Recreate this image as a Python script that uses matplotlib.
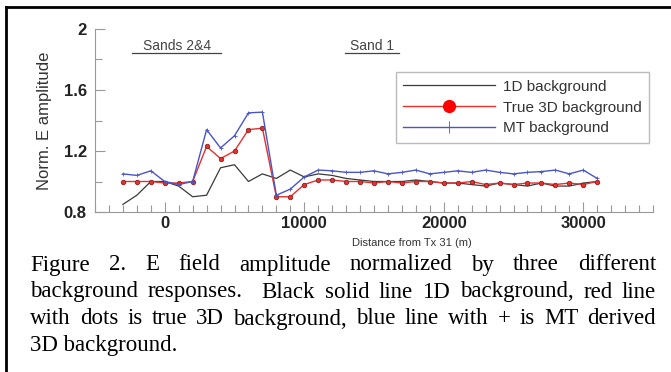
import numpy as np
import matplotlib.pyplot as plt
from matplotlib.lines import Line2D
from matplotlib.ticker import MultipleLocator

# data (distance in m, normalized E amplitude)
distance = np.arange(-3000, 31001, 1000)

bg_1d = [0.85, 0.91, 1.00, 1.00, 0.97, 0.90, 0.91, 1.09, 1.11, 1.00,
         1.05, 1.02, 1.075, 1.03, 1.05, 1.04, 1.02, 1.01, 1.00, 1.00,
         1.00, 1.01, 1.00, 0.99, 0.99, 0.98, 0.97, 0.99, 0.98, 0.97,
         0.99, 0.97, 0.97, 0.99, 1.00]

bg_true3d = [1.00, 1.00, 1.00, 0.99, 0.99, 1.00, 1.23, 1.15, 1.20, 1.34,
             1.35, 0.90, 0.90, 0.98, 1.01, 1.01, 1.00, 1.00, 0.99, 1.00,
             0.99, 1.00, 1.00, 0.99, 0.99, 1.00, 0.98, 0.99, 0.98, 0.99,
             0.99, 0.98, 0.99, 0.98, 1.00]

bg_mt = [1.05, 1.04, 1.07, 1.00, 0.98, 1.00, 1.34, 1.22, 1.30, 1.45,
         1.455, 0.91, 0.95, 1.03, 1.075, 1.07, 1.06, 1.06, 1.07, 1.05,
         1.06, 1.075, 1.05, 1.06, 1.07, 1.06, 1.075, 1.06, 1.05, 1.06,
         1.065, 1.075, 1.05, 1.075, 1.02]

caption = ["Figure 2. E field amplitude normalized by three different",
           "background responses.  Black solid line 1D background, red line",
           "with dots is true 3D background, blue line with + is MT derived",
           "3D background."]

W, H = 671, 372
fig = plt.figure(figsize=(W / 100, H / 100), dpi=100)


def fx(x):
    return x / W


def fy(y):
    return 1 - y / H


# page frame (left and top rules)
fig.add_artist(Line2D([fx(6), fx(6)], [0, fy(7)], color='k', lw=2))
fig.add_artist(Line2D([fx(6), 1], [fy(7), fy(7)], color='k', lw=2))

ax = fig.add_axes([fx(95), fy(212), fx(653) - fx(95), fy(29) - fy(212)])

ax.plot(distance, bg_1d, color='#3a3a3a', lw=0.9)
ax.plot(distance, bg_true3d, color='#e8302c', lw=1.0, marker='o', ms=3.2,
        mfc='#e8302c', mec='#8a2020', mew=0.6)
ax.plot(distance, bg_mt, color='#4a55c8', lw=1.0, marker='+', ms=3,
        mew=0.6)

ax.set_xlim(-5000, 35000)
ax.set_ylim(0.8, 2.0)
ax.set_xticks([0, 10000, 20000, 30000])
ax.set_yticks([0.8, 1.2, 1.6, 2.0])
ax.set_yticklabels(['0.8', '1.2', '1.6', '2'])
ax.xaxis.set_minor_locator(MultipleLocator(1000))
ax.yaxis.set_minor_locator(MultipleLocator(0.2))
ax.tick_params(which='both', direction='in', colors='#999999',
               labelcolor='#222222', width=0.8)
ax.tick_params(which='major', length=7, labelsize=12)
ax.tick_params(which='minor', length=5)
ax.tick_params(axis='x', pad=3)
ax.tick_params(axis='y', pad=6)
for lab in ax.get_xticklabels() + ax.get_yticklabels():
    lab.set_fontweight('bold')
    lab.set_family('Liberation Sans')

ax.spines['top'].set_visible(False)
ax.spines['right'].set_visible(False)
ax.spines['left'].set_color('#999999')
ax.spines['bottom'].set_color('#999999')

ax.set_ylabel('Norm. E amplitude', fontsize=12, family='Liberation Sans',
              color='#333333', labelpad=8)
fig.text(fx(412), fy(243), 'Distance from Tx 31 (m)', fontsize=8,
         family='Liberation Sans', color='#333333', ha='center', va='center')

# zone labels, underlined
for label, cx, x0, x1 in [('Sands 2&4', 177, 132, 221), ('Sand 1', 372, 345, 399)]:
    fig.text(fx(cx), fy(46), label, fontsize=10, family='Liberation Sans',
             color='#444444', ha='center', va='center')
    fig.add_artist(Line2D([fx(x0), fx(x1)], [fy(53), fy(53)],
                          color='#444444', lw=0.9))

handles = [Line2D([], [], color='#3a3a3a', lw=0.9),
           Line2D([], [], color='#e8302c', lw=1.0, marker='o', ms=8.5,
                  mfc='#ff0000', mec='#ff0000'),
           Line2D([], [], color='#4a55c8', lw=1.0, marker='+', ms=8, mew=0.6)]
leg = fig.legend(handles, ['1D background', 'True 3D background', 'MT background'],
                 loc='upper right', bbox_to_anchor=(fx(649), fy(72)),
                 bbox_transform=fig.transFigure, borderaxespad=0,
                 prop={'family': 'Liberation Sans', 'size': 11},
                 handlelength=6.0, handletextpad=0.5, labelspacing=0.45,
                 fancybox=False, framealpha=1, edgecolor='#bbbbbb',
                 borderpad=0.5)
for t in leg.get_texts():
    t.set_color('#333333')

# justified caption
left, right = 30, 656
line_y = [265, 292, 319, 346]
renderer = fig.canvas.get_renderer()
for i, line in enumerate(caption):
    y = fy(line_y[i])
    if i == len(caption) - 1:
        fig.text(fx(left), y, line, fontsize=16.5, family='Liberation Serif',
                 ha='left', va='center')
        continue
    words = line.split(' ')
    texts = [fig.text(0, y, w, fontsize=16.5, family='Liberation Serif',
                      ha='left', va='center') for w in words]
    widths = [t.get_window_extent(renderer).width if w else 0
              for t, w in zip(texts, words)]
    gap = (right - left - sum(widths)) / (len(words) - 1)
    x = left
    for t, wd in zip(texts, widths):
        t.set_x(fx(x))
        x += wd + gap

fig.savefig('out.png', dpi=100)
